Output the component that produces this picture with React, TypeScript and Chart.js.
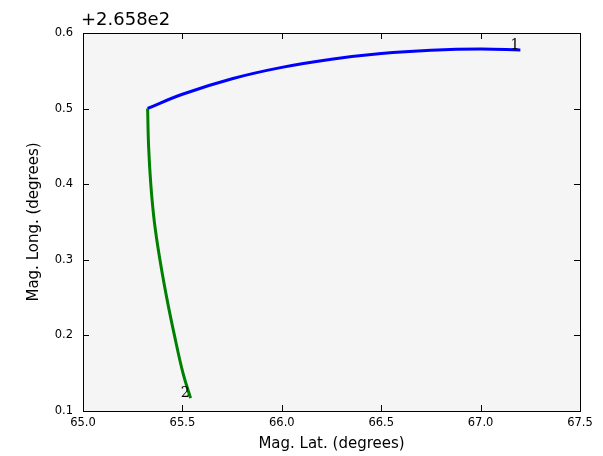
import { useEffect, useRef } from 'react';
import { Chart, registerables } from 'chart.js';

Chart.register(...registerables);

// Track 1 (blue) and track 2 (green), magnetic latitude vs. longitude offset from 265.8
const LAT_1 = [65.325, 65.5, 65.75, 66.0, 66.25, 66.5, 66.75, 67.0, 67.2];
const LON_1 = [0.5002, 0.519, 0.5395, 0.5545, 0.5653, 0.5728, 0.5772, 0.5789, 0.5776];
const LAT_2 = [65.325, 65.33, 65.341, 65.359, 65.387, 65.421, 65.46, 65.503, 65.541];
const LON_2 = [0.5002, 0.45, 0.4, 0.35, 0.3, 0.25, 0.2, 0.15, 0.117];

const X_TICKS = [65.0, 65.5, 66.0, 66.5, 67.0, 67.5];
const Y_TICKS = [0.1, 0.2, 0.3, 0.4, 0.5, 0.6];
const Y_OFFSET_TEXT = '+2.658e2';
const TRACK_NAMES = ['1', '2'];

const SANS = '"DejaVu Sans", sans-serif';
const SERIF = '"DejaVu Serif", serif';
const TICK_LEN = 6;

const framePlugin = {
  id: 'frame',
  beforeDraw(chart: any) {
    const { ctx, chartArea: a, width, height } = chart;
    ctx.save();
    ctx.fillStyle = '#ffffff';
    ctx.fillRect(0, 0, width, height);
    ctx.fillStyle = '#f5f5f5';
    ctx.fillRect(a.left, a.top, a.right - a.left, a.bottom - a.top);
    ctx.restore();
  },
  afterDatasetsDraw(chart: any) {
    const { ctx, chartArea: a, scales } = chart;
    const xs = scales.x;
    const ys = scales.y;
    ctx.save();
    ctx.strokeStyle = '#000000';
    ctx.lineWidth = 1;
    // inward ticks on all four sides
    ctx.beginPath();
    X_TICKS.forEach((v) => {
      const px = Math.round(xs.getPixelForValue(v)) + 0.5;
      ctx.moveTo(px, a.bottom);
      ctx.lineTo(px, a.bottom - TICK_LEN);
      ctx.moveTo(px, a.top);
      ctx.lineTo(px, a.top + TICK_LEN);
    });
    Y_TICKS.forEach((v) => {
      const py = Math.round(ys.getPixelForValue(v)) + 0.5;
      ctx.moveTo(a.left, py);
      ctx.lineTo(a.left + TICK_LEN, py);
      ctx.moveTo(a.right, py);
      ctx.lineTo(a.right - TICK_LEN, py);
    });
    ctx.stroke();
    // axes frame
    ctx.strokeRect(Math.round(a.left) + 0.5, Math.round(a.top) + 0.5,
      Math.round(a.right - a.left), Math.round(a.bottom - a.top));

    // offset text for the y axis
    ctx.fillStyle = '#000000';
    ctx.font = `18px ${SANS}`;
    ctx.textAlign = 'left';
    ctx.textBaseline = 'alphabetic';
    ctx.fillText(Y_OFFSET_TEXT, a.left - 2, a.top - 8);

    // track numbers at the end of each track
    ctx.font = `14px ${SERIF}`;
    ctx.textAlign = 'right';
    ctx.textBaseline = 'alphabetic';
    const ends = [
      [LAT_1[LAT_1.length - 1], LON_1[LON_1.length - 1]],
      [LAT_2[LAT_2.length - 1], LON_2[LON_2.length - 1]],
    ];
    ends.forEach(([lx, ly], i) => {
      const px = xs.getPixelForValue(lx);
      const py = ys.getPixelForValue(ly);
      ctx.fillText(TRACK_NAMES[i], px - 1, py - 1);
    });
    ctx.restore();
  },
};

export default function App() {
  const ref = useRef<HTMLCanvasElement | null>(null);

  useEffect(() => {
    if (!ref.current) return;
    const toPts = (xs: number[], ys: number[]) => xs.map((x, i) => ({ x, y: ys[i] }));
    const chart = new Chart(ref.current, {
      type: 'line',
      data: {
        datasets: [
          {
            label: TRACK_NAMES[0],
            data: toPts(LAT_1, LON_1),
            borderColor: '#0000ff',
            borderWidth: 3,
            pointRadius: 0,
            tension: 0.4,
            fill: false,
          },
          {
            label: TRACK_NAMES[1],
            data: toPts(LAT_2, LON_2),
            borderColor: '#008000',
            borderWidth: 3,
            pointRadius: 0,
            tension: 0.4,
            fill: false,
          },
        ],
      },
      options: {
        animation: false,
        responsive: false,
        devicePixelRatio: 1,
        layout: { padding: { left: 0, top: 33, right: 23, bottom: 0 } },
        plugins: {
          legend: { display: false },
          tooltip: { enabled: false },
        },
        scales: {
          x: {
            type: 'linear',
            min: X_TICKS[0],
            max: X_TICKS[X_TICKS.length - 1],
            grid: { display: false, drawTicks: false },
            border: { display: false },
            afterBuildTicks: (s: any) => {
              s.ticks = X_TICKS.map((v) => ({ value: v }));
            },
            afterFit: (s: any) => {
              s.height = 45;
            },
            ticks: {
              autoSkip: false,
              maxRotation: 0,
              padding: 5,
              color: '#000000',
              font: { family: SANS, size: 11.5 },
              callback: (v: any) => Number(v).toFixed(1),
            },
            title: {
              display: true,
              text: 'Mag. Lat. (degrees)',
              color: '#000000',
              font: { family: SANS, size: 15 },
              padding: { top: 0, bottom: 3 },
            },
          },
          y: {
            type: 'linear',
            min: Y_TICKS[0],
            max: Y_TICKS[Y_TICKS.length - 1],
            grid: { display: false, drawTicks: false },
            border: { display: false },
            afterBuildTicks: (s: any) => {
              s.ticks = Y_TICKS.map((v) => ({ value: v }));
            },
            afterFit: (s: any) => {
              s.width = 83;
            },
            ticks: {
              autoSkip: false,
              padding: 10,
              color: '#000000',
              font: { family: SANS, size: 11.5 },
              callback: (v: any) => Number(v).toFixed(1),
            },
            title: {
              display: true,
              text: 'Mag. Long. (degrees)',
              color: '#000000',
              font: { family: SANS, size: 15 },
              padding: { top: 25, bottom: 0 },
            },
          },
        },
      },
      plugins: [framePlugin],
    });
    return () => chart.destroy();
  }, []);

  return (
    <div style={{ position: 'absolute', left: 0, top: 0, width: 603, height: 456 }}>
      <canvas ref={ref} width={603} height={456} style={{ display: 'block', width: 603, height: 456 }} />
    </div>
  );
}
